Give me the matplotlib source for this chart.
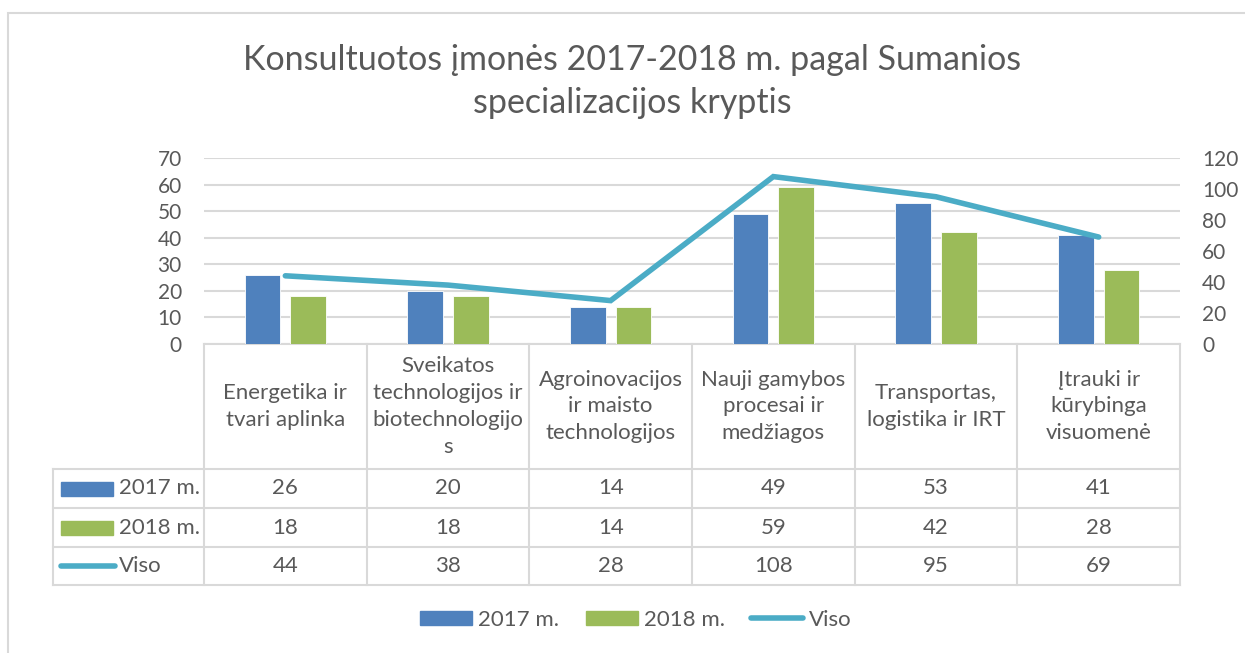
import numpy as np
import matplotlib
matplotlib.use('Agg')
import matplotlib.pyplot as plt
from matplotlib.patches import Patch, Rectangle
from matplotlib.lines import Line2D

plt.rcParams['font.family'] = ['Lato', 'DejaVu Sans']

# data
categories = ['Energetika ir\ntvari aplinka',
              'Sveikatos\ntechnologijos ir\nbiotechnologijo\ns',
              'Agroinovacijos\nir maisto\ntechnologijos',
              'Nauji gamybos\nprocesai ir\nmedžiagos',
              'Transportas,\nlogistika ir IRT',
              'Įtrauki ir\nkūrybinga\nvisuomenė']
y2017 = [26, 20, 14, 49, 53, 41]
y2018 = [18, 18, 14, 59, 42, 28]
viso = [44, 38, 28, 108, 95, 69]
series_names = ['2017 m.', '2018 m.', 'Viso']
left_ticks = [0, 10, 20, 30, 40, 50, 60, 70]
right_ticks = [0, 20, 40, 60, 80, 100, 120]

BLUE = '#4F81BD'
GREEN = '#9BBB59'
TEAL = '#4BACC6'
GRID = '#D9D9D9'
TXT = '#595959'

W, H = 1245, 653
fig = plt.figure(figsize=(W / 100, H / 100), dpi=100)

# outer chart border
fig.add_artist(Rectangle((8 / W, -0.1), 1.2, 1 - 13 / H + 0.1, transform=fig.transFigure,
                         fill=False, edgecolor=GRID, lw=1.5))

# main plot area (pixels: x 204-1180, y 158-344)
ax = fig.add_axes([204 / W, 1 - 344 / H, 976 / W, 186 / H])
x = np.arange(len(categories))
ax.bar(x - 0.14, y2017, width=0.22, color=BLUE, edgecolor='white', lw=0.6, zorder=3)
ax.bar(x + 0.14, y2018, width=0.22, color=GREEN, edgecolor='white', lw=0.6, zorder=3)
ax.set_xlim(-0.5, len(categories) - 0.5)
ax.set_ylim(0, 70)
ax.set_yticks(left_ticks)
ax.set_xticks([])
ax.yaxis.grid(True, color=GRID, lw=1.5)
ax.set_axisbelow(True)
ax.tick_params(axis='y', length=0, pad=16, labelsize=15, labelcolor=TXT)
for s in ['left', 'right', 'top']:
    ax.spines[s].set_visible(False)
ax.spines['bottom'].set_color(GRID)
ax.spines['bottom'].set_linewidth(1.5)

ax2 = ax.twinx()
ax2.plot(x, viso, color=TEAL, lw=4, solid_capstyle='round', solid_joinstyle='miter', zorder=4)
ax2.set_ylim(0, 120)
ax2.set_yticks(right_ticks)
ax2.tick_params(axis='y', length=0, pad=16, labelsize=15, labelcolor=TXT)
for s in ax2.spines.values():
    s.set_visible(False)

# data table under the plot (pixels: x 53-1180, y 344-585)
tab = fig.add_axes([53 / W, 1 - 585 / H, 1127 / W, 241 / H])
x0 = -0.5 - 151 / 162.67
tab.set_xlim(x0, len(categories) - 0.5)
tab.set_ylim(241, 0)
tab.axis('off')
row_edges = [0, 125, 164, 203, 241]
lkw = dict(color=GRID, lw=1.5, clip_on=False)
# vertical lines
for i in range(len(categories) + 1):
    tab.plot([i - 0.5, i - 0.5], [0, 241], **lkw)
tab.plot([x0, x0], [125, 241], **lkw)
for yy in row_edges[1:]:
    tab.plot([x0, len(categories) - 0.5], [yy, yy], **lkw)

for i, cat in enumerate(categories):
    tab.text(i, 62.5, cat, ha='center', va='center', fontsize=16, color=TXT,
             linespacing=1.42)

rows = [y2017, y2018, viso]
for r, vals in enumerate(rows):
    yc = (row_edges[r + 1] + row_edges[r + 2]) / 2
    for i, v in enumerate(vals):
        tab.text(i, yc, str(v), ha='center', va='center', fontsize=16, color=TXT)
    tab.text(x0 + 66 / 162.67, yc, series_names[r], ha='left', va='center',
             fontsize=16, color=TXT)

kx0 = x0 + 8 / 162.67
kw = 52 / 162.67
yc0 = (row_edges[1] + row_edges[2]) / 2
yc1 = (row_edges[2] + row_edges[3]) / 2
yc2 = (row_edges[3] + row_edges[4]) / 2
tab.add_patch(Rectangle((kx0, yc0 - 7), kw, 14, color=BLUE, clip_on=False))
tab.add_patch(Rectangle((kx0, yc1 - 7), kw, 14, color=GREEN, clip_on=False))
tab.plot([kx0, kx0 + kw + 2 / 162.67], [yc2, yc2], color=TEAL, lw=4,
         solid_capstyle='round', clip_on=False)

# title
fig.text(632 / W, 1 - 60 / H, 'Konsultuotos įmonės 2017-2018 m. pagal Sumanios',
         ha='center', va='center', fontsize=24.5, color=TXT)
fig.text(632 / W, 1 - 103 / H, 'specializacijos kryptis',
         ha='center', va='center', fontsize=24.5, color=TXT)

# legend at the bottom
handles = [Patch(color=BLUE), Patch(color=GREEN),
           Line2D([0], [0], color=TEAL, lw=4, solid_capstyle='round')]
fig.legend(handles, series_names, loc='center', bbox_to_anchor=(636 / W, 1 - 620 / H),
           ncol=3, frameon=False, fontsize=16, labelcolor=TXT,
           handlelength=2.34, handleheight=0.63, handletextpad=0.27, columnspacing=1.2)

fig.savefig('out.png', dpi=100)
